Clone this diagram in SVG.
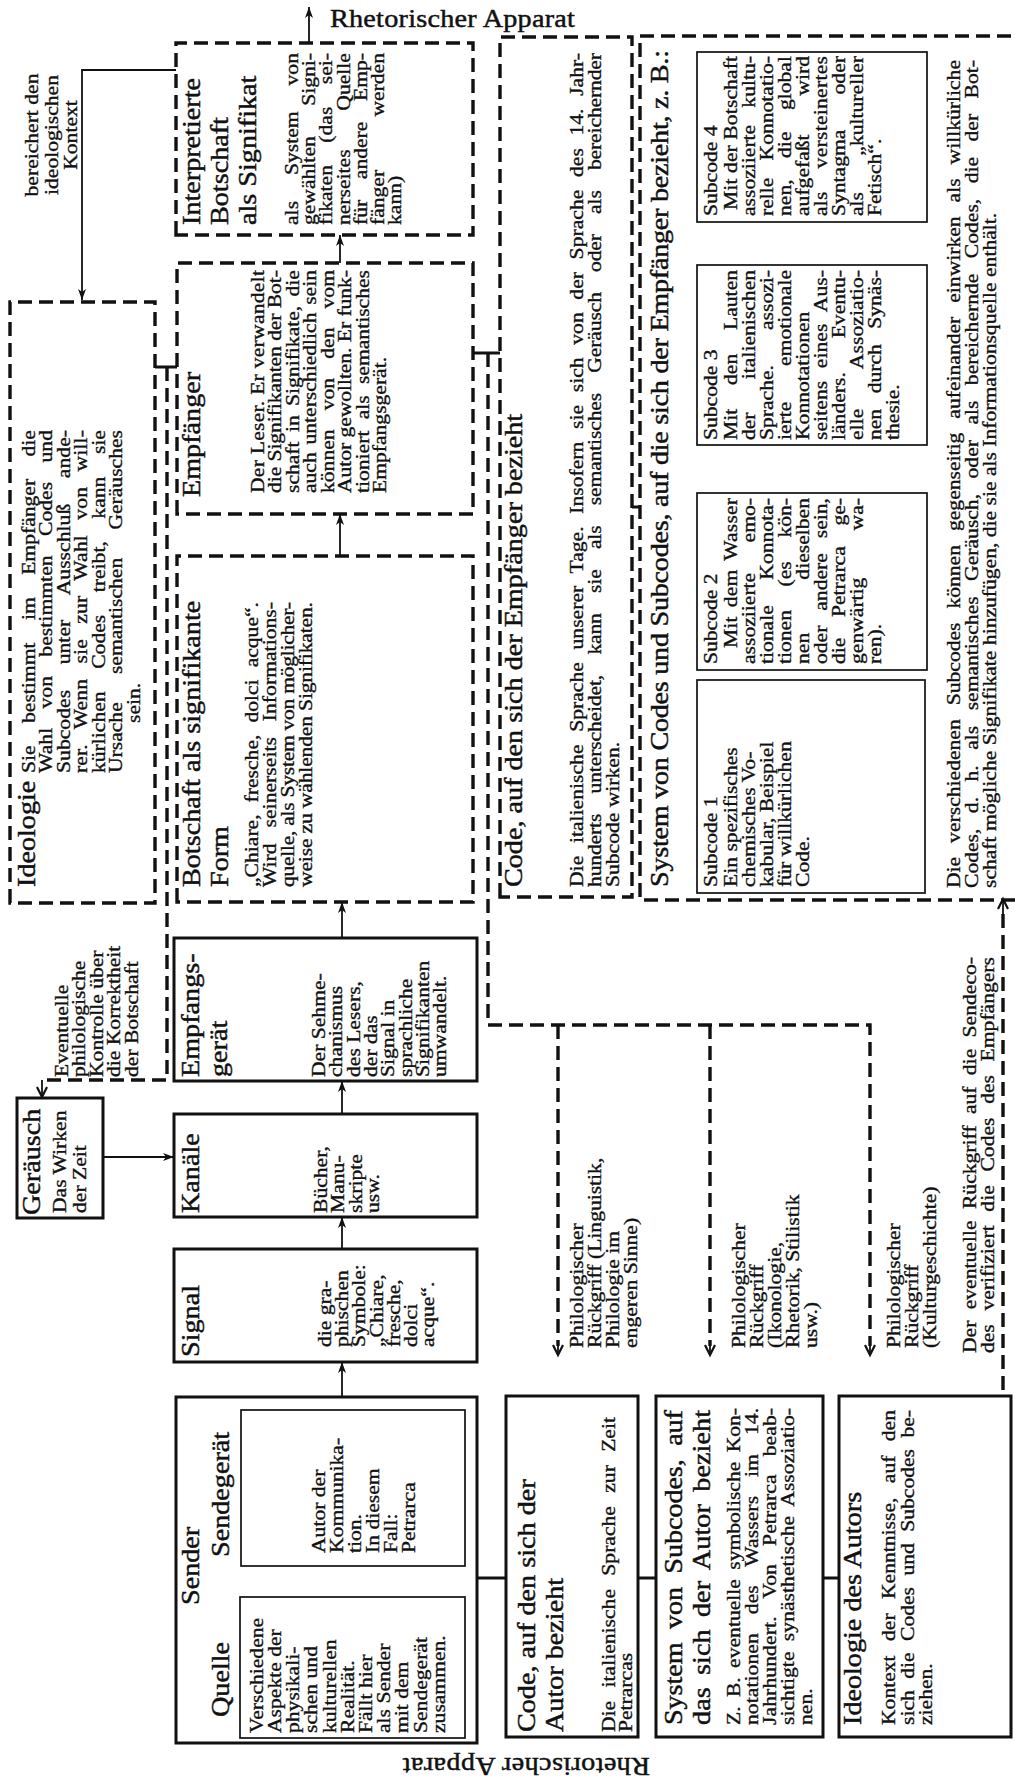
<svg xmlns="http://www.w3.org/2000/svg" width="1015" height="1778" viewBox="0 0 1015 1778">
<style>
 .h{font-family:'Liberation Serif','Times New Roman',serif;font-size:24.5px;fill:#111;stroke:#111;stroke-width:.45}
 .b{font-family:'Liberation Serif','Times New Roman',serif;font-size:18px;fill:#111;stroke:#111;stroke-width:.35}
 .box{fill:none;stroke:#111;stroke-width:3}
 .thin{fill:none;stroke:#111;stroke-width:1.7}
 .dash{fill:none;stroke:#111;stroke-width:3.4;stroke-dasharray:14 7}
 .arr{fill:none;stroke:#111;stroke-width:1.8}
 .lnk{fill:none;stroke:#111;stroke-width:3}
</style>
<defs>
 <marker id="ah" markerUnits="userSpaceOnUse" markerWidth="12" markerHeight="10" refX="11" refY="4" orient="auto">
  <path d="M0,0 L11,4 L0,8 L3,4 z" fill="#111"/>
 </marker>
 <marker id="oh" markerUnits="userSpaceOnUse" markerWidth="14" markerHeight="14" refX="11" refY="6" orient="auto">
  <path d="M1,1 L11,6 L1,11" fill="none" stroke="#111" stroke-width="2.2"/>
 </marker>
</defs>
<rect width="1015" height="1778" fill="#fff"/>

<!-- upright and upside-down captions of the rhetorical apparatus -->
<text class="h" transform="translate(330 27) scale(1.15 1)" textLength="213">Rhetorischer Apparat</text>
<text class="h" transform="translate(650 1758) rotate(180) scale(1.15 1)" textLength="215">Rhetorischer Apparat</text>

<!-- the page is set sideways: reading frame, x runs along the lines -->
<g transform="translate(0 1778) rotate(-90)">

<g id="sender">
 <rect class="box" x="35" y="176" width="346" height="301"/>
 <rect class="thin" x="40" y="240" width="141" height="225"/>
 <rect class="thin" x="212" y="241" width="156" height="224"/>
 <g class="h" transform="translate(173 0) scale(1.15 1)"><text y="199">Sender</text></g>
 <g class="h" transform="translate(61 0) scale(1.15 1)"><text y="229">Quelle</text></g>
 <g class="h" transform="translate(221 0) scale(1.15 1)"><text y="229">Sendegerät</text></g>
 <g class="b" transform="translate(45 0) scale(1.2 1)">
  <text y="263">Verschiedene</text><text y="281">Aspekte der</text><text y="299.5">physikali-</text>
  <text y="317.5">schen und</text><text y="336">kulturellen</text><text y="354">Realität.</text>
  <text y="372">Fällt hier</text><text y="390.5">als Sender</text><text y="408.5">mit dem</text>
  <text y="427">Sendegerät</text><text y="445">zusammen.</text>
 </g>
 <g class="b" transform="translate(225 0) scale(1.2 1)">
  <text y="325">Autor der</text><text y="343">Kommunika-</text><text y="361">tion.</text>
  <text y="379">In diesem</text><text y="397">Fall:</text><text y="415">Petrarca</text>
 </g>
</g>

<g id="signal">
 <rect class="box" x="416" y="174" width="113" height="303"/>
 <g class="h" transform="translate(421 0) scale(1.15 1)"><text y="199">Signal</text></g>
 <g class="b" transform="translate(431 0) scale(1.2 1)">
  <text y="331">die gra-</text><text y="348">phischen</text><text y="365.5">Symbole:</text>
  <text y="383">„Chiare,</text><text y="400">fresche,</text><text y="417">dolci</text><text y="434">acque“.</text>
 </g>
</g>

<g id="kanaele">
 <rect class="box" x="561" y="174" width="103" height="303"/>
 <g class="h" transform="translate(565 0) scale(1.15 1)"><text y="199">Kanäle</text></g>
 <g class="b" transform="translate(565 0) scale(1.2 1)">
  <text y="327">Bücher,</text><text y="344.5">Manu-</text><text y="362">skripte</text><text y="379.5">usw.</text>
 </g>
</g>

<g id="empfangsgeraet">
 <rect class="box" x="697" y="174" width="143" height="303"/>
 <g class="h" transform="translate(701 0) scale(1.15 1)"><text y="199">Empfangs-</text><text y="227">gerät</text></g>
 <g class="b" transform="translate(701 0) scale(1.2 1)">
  <text y="325">Der Sehme-</text><text y="342">chanismus</text><text y="360">des Lesers,</text>
  <text y="377">der das</text><text y="394">Signal in</text><text y="412">sprachliche</text>
  <text y="429">Signifikanten</text><text y="446">umwandelt.</text>
 </g>
</g>

<g id="geraeusch">
 <rect class="box" x="560" y="17" width="120" height="86"/>
 <g class="h" transform="translate(563 0) scale(1.15 1)"><text y="40">Geräusch</text></g>
 <g class="b" transform="translate(565 0) scale(1.2 1)">
  <text y="66">Das Wirken</text><text y="86">der Zeit</text>
 </g>
</g>

<g id="kontrolle-label">
 <g class="b" transform="translate(701 0) scale(1.2 1)">
  <text y="68">Eventuelle</text><text y="85.5">philologische</text><text y="103">Kontrolle über</text>
  <text y="120.5">die Korrektheit</text><text y="138">der Botschaft</text>
 </g>
</g>

<g id="botschaft">
 <rect class="dash" x="876" y="177" width="346" height="296"/>
 <g class="h" transform="translate(891 0) scale(1.15 1)">
  <text y="200">Botschaft als signifikante</text>
  <text y="228">Form</text>
 </g>
 <g class="b" transform="translate(891 0) scale(1.2 1)">
  <text y="258" textLength="237.5" word-spacing="5.5">„Chiare, fresche, dolci acque“.</text>
  <text y="276" textLength="237.5" word-spacing="8.7">Wird seinerseits Informations-</text>
  <text y="294" textLength="237.5">quelle, als System von möglicher-</text>
  <text y="312" textLength="237.5">weise zu wählenden Signifikaten.</text>
 </g>
</g>

<g id="empfaenger">
 <rect class="dash" x="1264" y="177" width="251" height="296"/>
 <g class="h" transform="translate(1281 0) scale(1.15 1)"><text y="200">Empfänger</text></g>
 <g class="b" transform="translate(1285 0) scale(1.2 1)">
  <text y="264" textLength="185.8">Der Leser. Er verwandelt</text>
  <text y="281.5" textLength="185.8">die Signifikanten der Bot-</text>
  <text y="299" textLength="185.8" word-spacing="3.3">schaft in Signifikate, die</text>
  <text y="316.5" textLength="185.8" word-spacing="1.9">auch unterschiedlich sein</text>
  <text y="334" textLength="185.8" word-spacing="11.4">können von den vom</text>
  <text y="351.5" textLength="185.8">Autor gewollten. Er funk-</text>
  <text y="369" textLength="185.8" word-spacing="4.9">tioniert als semantisches</text>
  <text y="386.5">Empfangsgerät.</text>
 </g>
</g>

<g id="interpretierte-botschaft">
 <rect class="dash" x="1543" y="176" width="192" height="297"/>
 <g class="h" transform="translate(1553 0) scale(1.15 1)">
  <text y="200">Interpretierte</text>
  <text y="228">Botschaft</text>
  <text y="256">als Signifikat</text>
 </g>
 <g class="b" transform="translate(1553 0) scale(1.2 1)">
  <text y="298" textLength="143.3" word-spacing="17">als System von</text>
  <text y="315" textLength="143.3" word-spacing="20.8">gewählten Signi-</text>
  <text y="332" textLength="143.3" word-spacing="14.2">fikaten (das sei-</text>
  <text y="350" textLength="143.3" word-spacing="27.8">nerseites Quelle</text>
  <text y="367" textLength="143.3" word-spacing="12.7">für andere Emp-</text>
  <text y="384" textLength="143.3" word-spacing="39.9">fänger werden</text>
  <text y="401">kann)</text>
 </g>
</g>

<g id="ideologie">
 <rect class="dash" x="875" y="10" width="601" height="145"/>
 <g class="h" transform="translate(891 0) scale(1.15 1)"><text y="35">Ideologie</text></g>
 <g class="b" transform="translate(1005 0) scale(1.2 1)">
  <text y="35" textLength="285.8" word-spacing="14.2">Sie bestimmt im Empfänger die</text>
  <text y="52.5" textLength="285.8" word-spacing="11.5">Wahl von bestimmten Codes und</text>
  <text y="70" textLength="285.8" word-spacing="16.8">Subcodes unter Ausschluß ande-</text>
  <text y="87.5" textLength="285.8" word-spacing="8.1">rer. Wenn sie zur Wahl von will-</text>
  <text y="105" textLength="285.8" word-spacing="14.3">kürlichen Codes treibt, kann sie</text>
  <text y="122.5" textLength="285.8" word-spacing="19">Ursache semantischen Geräusches</text>
  <text x="41.7" y="140">sein.</text>
 </g>
</g>

<g id="kontext-label">
 <g class="b" transform="translate(1643 0) scale(1.2 1)" text-anchor="middle" font-size="19">
  <text y="38">bereichert den</text><text y="58">ideologischen</text><text y="77">Kontext</text>
 </g>
</g>

<g id="code-empfaenger">
 <rect class="dash" x="881" y="500" width="860" height="132"/>
 <g class="h" transform="translate(891 0) scale(1.15 1)"><text y="522">Code, auf den sich der Empfänger bezieht</text></g>
 <g class="b" transform="translate(891 0) scale(1.2 1)">
  <text y="583" textLength="695" word-spacing="6">Die italienische Sprache unserer Tage. Insofern sie sich von der Sprache des 14. Jahr-</text>
  <text y="601" textLength="695" word-spacing="12.5">hunderts unterscheidet, kann sie als semantisches Geräusch oder als bereichernder</text>
  <text y="619">Subcode wirken.</text>
 </g>
</g>

<g id="codes-subcodes-empfaenger">
 <path class="dash" d="M878 1015 L878 640 L1742 640 L1742 1015"/>
 <g class="h" transform="translate(891 0) scale(1.15 1)">
  <text y="668" textLength="727.8">System von Codes und Subcodes, auf die sich der Empfänger bezieht, z. B.:</text>
 </g>
 <g class="b" transform="translate(890 0) scale(1.2 1)">
  <text y="960" textLength="690" word-spacing="7.1">Die verschiedenen Subcodes können gegenseitig aufeinander einwirken als willkürliche</text>
  <text y="978" textLength="690" word-spacing="8.4">Codes, d. h. als semantisches Geräusch, oder als bereichernde Codes, die der Bot-</text>
  <text y="996">schaft mögliche Signifikate hinzufügen, die sie als Informationsquelle enthält.</text>
 </g>
</g>

<g id="subcode-1">
 <rect class="thin" x="885" y="697" width="213" height="228"/>
 <g class="b" transform="translate(891 0) scale(1.2 1)">
  <text y="717">Subcode 1</text><text y="737">Ein spezifisches</text><text y="755">chemisches Vo-</text>
  <text y="773">kabular, Beispiel</text><text y="791">für willkürlichen</text><text y="809">Code.</text>
 </g>
</g>

<g id="subcode-2">
 <rect class="thin" x="1108" y="697" width="177" height="230"/>
 <g class="b" transform="translate(1114 0) scale(1.2 1)">
  <text y="717">Subcode 2</text>
  <text x="13.3" y="737" textLength="125" word-spacing="3">Mit dem Wasser</text>
  <text y="755" textLength="138.3" word-spacing="20.8">assoziierte emo-</text>
  <text y="773" textLength="138.3" word-spacing="16.8">tionale Konnota-</text>
  <text y="791" textLength="138.3" word-spacing="15.2">tionen (es kön-</text>
  <text y="809" textLength="138.3" word-spacing="39.8">nen dieselben</text>
  <text y="827" textLength="138.3" word-spacing="7.9">oder andere sein,</text>
  <text y="845" textLength="138.3" word-spacing="12.7">die Petrarca ge-</text>
  <text y="863" textLength="138.3" word-spacing="34.8">genwärtig wa-</text>
  <text y="881">ren).</text>
 </g>
</g>

<g id="subcode-3">
 <rect class="thin" x="1333" y="697" width="180" height="230"/>
 <g class="b" transform="translate(1338 0) scale(1.2 1)">
  <text y="717">Subcode 3</text>
  <text y="737" textLength="141.7" word-spacing="15.3">Mit den Lauten</text>
  <text y="755" textLength="141.7" word-spacing="23.2">der italienischen</text>
  <text y="773" textLength="141.7" word-spacing="24.7">Sprache. assozi-</text>
  <text y="791" textLength="141.7" word-spacing="25.2">ierte emotionale</text>
  <text y="809">Konnotationen</text>
  <text y="827" textLength="141.7" word-spacing="5.9">seitens eines Aus-</text>
  <text y="845" textLength="141.7" word-spacing="23.7">länders. Eventu-</text>
  <text y="863" textLength="141.7" word-spacing="29.2">elle Assoziatio-</text>
  <text y="881" textLength="141.7" word-spacing="8.4">nen durch Synäs-</text>
  <text y="899">thesie.</text>
 </g>
</g>

<g id="subcode-4">
 <rect class="thin" x="1556" y="697" width="170" height="230"/>
 <g class="b" transform="translate(1562 0) scale(1.2 1)">
  <text y="717">Subcode 4</text>
  <text x="5" y="737" textLength="128.3">Mit der Botschaft</text>
  <text y="755" textLength="133.3" word-spacing="9.8">assoziierte kultu-</text>
  <text y="773" textLength="133.3" word-spacing="9.8">relle Konnotatio-</text>
  <text y="791" textLength="133.3" word-spacing="13.4">nen, die global</text>
  <text y="809" textLength="133.3" word-spacing="27.8">aufgefaßt wird</text>
  <text y="827" textLength="133.3" word-spacing="14.3">als versteinertes</text>
  <text y="845" textLength="133.3" word-spacing="24.8">Syntagma oder</text>
  <text y="863" textLength="133.3" word-spacing="25.8">als „kultureller</text>
  <text y="881">Fetisch“.</text>
 </g>
</g>

<g id="code-autor">
 <rect class="box" x="41" y="506" width="341" height="132"/>
 <g class="h" transform="translate(46 0) scale(1.15 1)">
  <text y="535">Code, auf den sich der</text>
  <text y="563">Autor bezieht</text>
 </g>
 <g class="b" transform="translate(46 0) scale(1.2 1)">
  <text y="615" textLength="262.5" word-spacing="6.6">Die italienische Sprache zur Zeit</text>
  <text y="632">Petrarcas</text>
 </g>
</g>

<g id="subcodes-autor">
 <rect class="box" x="41" y="656" width="341" height="167"/>
 <g class="h" transform="translate(53 0) scale(1.15 1)">
  <text y="682" textLength="273.9" word-spacing="5.6">System von Subcodes, auf</text>
  <text y="710" textLength="273.9" word-spacing="4.5">das sich der Autor bezieht</text>
 </g>
 <g class="b" transform="translate(53 0) scale(1.2 1)">
  <text y="740" textLength="264.2" word-spacing="3.3">Z. B. eventuelle symbolische Kon-</text>
  <text y="758" textLength="264.2" word-spacing="11.2">notationen des Wassers im 14.</text>
  <text y="776" textLength="264.2" word-spacing="10.4">Jahrhundert. Von Petrarca beab-</text>
  <text y="794" textLength="264.2" word-spacing="4.1">sichtigte synästhetische Assoziatio-</text>
  <text y="812">nen.</text>
 </g>
</g>

<g id="ideologie-autor">
 <rect class="box" x="41" y="839" width="341" height="172"/>
 <g class="h" transform="translate(53 0) scale(1.15 1)"><text y="861">Ideologie des Autors</text></g>
 <g class="b" transform="translate(53 0) scale(1.2 1)">
  <text y="895" textLength="262.5" word-spacing="7.5">Kontext der Kenntnisse, auf den</text>
  <text y="914" textLength="262.5" word-spacing="5">sich die Codes und Subcodes be-</text>
  <text y="932">ziehen.</text>
 </g>
</g>

<g id="rueckgriff-labels">
 <g class="b" transform="translate(430 0) scale(1.2 1)">
  <text y="583">Philologischer</text><text y="601">Rückgriff (Linguistik,</text>
  <text y="619">Philologie im</text><text y="637">engeren Sinne)</text>
  <text y="745">Philologischer</text><text y="763">Rückgriff</text><text y="781">(Ikonologie,</text>
  <text y="799">Rhetorik, Stilistik</text><text y="817">usw.)</text>
  <text y="900">Philologischer</text><text y="918">Rückgriff</text><text y="936">(Kulturgeschichte)</text>
 </g>
 <g class="b" transform="translate(425 0) scale(1.2 1)">
  <text y="976" textLength="330" word-spacing="4.9">Der eventuelle Rückgriff auf die Sendeco-</text>
  <text y="994" textLength="330" word-spacing="6.9">des verifiziert die Codes des Empfängers</text>
 </g>
</g>

<g id="connectors">
 <!-- solid ties along the sender column -->
 <line class="lnk" x1="200" y1="477" x2="200" y2="506"/>
 <line class="lnk" x1="200" y1="638" x2="200" y2="656"/>
 <line class="lnk" x1="200" y1="823" x2="200" y2="839"/>
 <!-- the communication chain -->
 <path class="arr" marker-end="url(#ah)" d="M381 342 L416 342"/>
 <path class="arr" marker-end="url(#ah)" d="M529 342 L561 342"/>
 <path class="arr" marker-end="url(#ah)" d="M664 342 L697 342"/>
 <path class="arr" marker-end="url(#ah)" d="M840 342 L876 342"/>
 <path class="arr" marker-end="url(#ah)" d="M1222 340 L1264 340"/>
 <path class="arr" marker-end="url(#ah)" d="M1515 340 L1543 340"/>
 <path class="arr" marker-end="url(#ah)" d="M1735 309 L1771 309"/>
 <path class="arr" marker-end="url(#ah)" d="M621 103 L621 174"/>
 <path class="arr" marker-end="url(#ah)" d="M1708 176 L1708 82 L1478 82"/>
 <!-- receiver ties to ideology and codes -->
 <line class="lnk" x1="1411" y1="155" x2="1411" y2="177"/>
 <line class="lnk" x1="1425" y1="473" x2="1425" y2="500"/>
 <line class="lnk" x1="1271" y1="632" x2="1271" y2="640"/>
 <!-- philological control back to the noise -->
 <path class="dash" d="M1411 167 L698 167 L698 44"/>
 <path class="arr" stroke-width="2.4" marker-end="url(#oh)" d="M698 42 L681 42"/>
 <!-- philological recourse branches -->
 <path class="dash" d="M1425 488 L753 488 L753 870 L432 870"/>
 <path class="dash" d="M753 558 L432 558"/>
 <path class="dash" d="M753 710 L432 710"/>
 <path class="arr" stroke-width="2.4" marker-end="url(#oh)" d="M436 558 L423 558"/>
 <path class="arr" stroke-width="2.4" marker-end="url(#oh)" d="M436 710 L423 710"/>
 <path class="arr" stroke-width="2.4" marker-end="url(#oh)" d="M436 870 L423 870"/>
 <!-- recourse to the sender codes -->
 <path class="dash" d="M388 1003 L866 1003"/>
 <path class="arr" stroke-width="2.4" marker-end="url(#oh)" d="M864 1003 L879 1003"/>
</g>

</g>
</svg>
